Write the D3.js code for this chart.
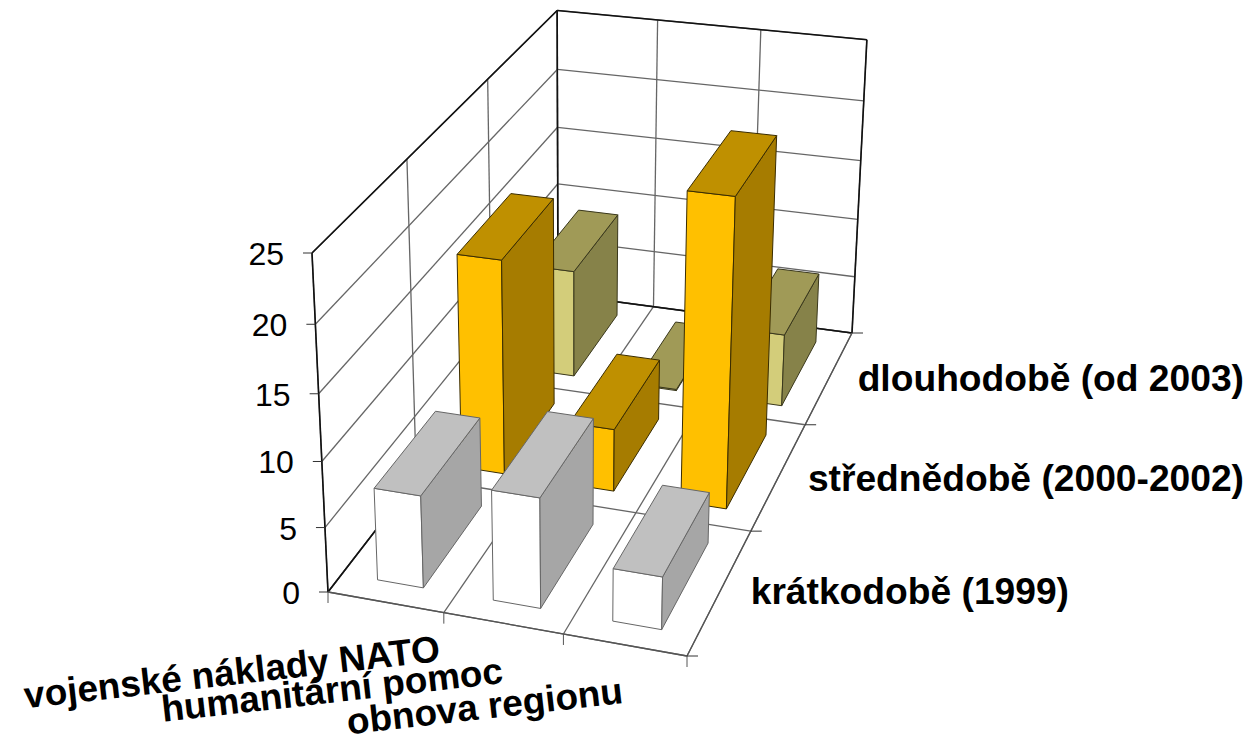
<!DOCTYPE html>
<html>
<head>
<meta charset="utf-8">
<script src="https://cdn.jsdelivr.net/npm/d3@7"></script>
<style>
body { margin: 0; background: #fff; }
text { font-family: "Liberation Sans", Arial, sans-serif; fill: #000; }
</style>
</head>
<body>
<script>
// data
var categories = ["vojenské náklady NATO", "humanitární pomoc", "obnova regionu"];
var periods = ["krátkodobě (1999)", "střednědobě (2000-2002)", "dlouhodobě (od 2003)"];
var shortTerm = [7.1, 8.4, 4];
var midTerm = [17.1, 5, 24];
var longTerm = [9, 0.1, 6];
var yTicks = [0, 5, 10, 15, 20, 25];

var seriesColors = [
    { front: "#ffffff", top: "#c0c0c0", side: "#a6a6a6", line: "#666666" },
    { front: "#ffc000", top: "#bf9000", side: "#a67c00", line: "#3a2c00" },
    { front: "#d3cd7a", top: "#a09a57", side: "#868249", line: "#3a381c" }
];

var w = 1249, h = 738;

var svg = d3.select("body").append("svg")
    .attr("width", w)
    .attr("height", h);

// corners of the 3D box on screen
var A = [328, 592], B = [687, 656], C = [852, 333], D = [558, 294]; // floor
var E = [312, 253], F = [558, 8], G = [866, 43]; // top of the walls

// camera: floor is a homography of the unit square, height column comes from E, F and G
var dx1 = B[0] - C[0], dx2 = D[0] - C[0], sx = A[0] - B[0] + C[0] - D[0];
var dy1 = B[1] - C[1], dy2 = D[1] - C[1], sy = A[1] - B[1] + C[1] - D[1];
var den = dx1 * dy2 - dx2 * dy1;
var g = (sx * dy2 - dx2 * sy) / den;
var k = (dx1 * sy - sx * dy1) / den;
var a1 = B[0] - A[0] + g * B[0], c1 = D[0] - A[0] + k * D[0];
var a2 = B[1] - A[1] + g * B[1], c2 = D[1] - A[1] + k * D[1];
var mF = (F[1] * (k + 1) - c2 - E[1]) / (E[1] - F[1]);
var mG = (G[1] * (g + k + 1) - a2 - c2 - E[1]) / (E[1] - G[1]);
var m = mF * 0.6 + mG * 0.4;
var b1 = E[0] * (m + 1) - A[0];
var b2 = E[1] * (m + 1) - A[1];

function project(u, t, v) {
    var q = g * u + m * t + k * v + 1;
    return [(a1 * u + b1 * t + c1 * v + A[0]) / q, (a2 * u + b2 * t + c2 * v + A[1]) / q];
}

var xScale = d3.scaleLinear().domain([0, categories.length]).range([0, 1]);
var zScale = d3.scaleLinear().domain([0, periods.length]).range([0, 1]);
var yScale = d3.scaleLinear().domain([0, 25]).range([0, 1]);

var line = d3.line();
function seg(p, q) { return line([p, q]); }

var xIdx = d3.range(categories.length + 1);
var zIdx = d3.range(periods.length + 1);

// gridlines
var gridLines = [];
yTicks.forEach(function(t) {
    var y = yScale(t);
    gridLines.push([project(0, y, 0), project(0, y, 1)]);
    gridLines.push([project(0, y, 1), project(1, y, 1)]);
});
xIdx.forEach(function(i) {
    var x = xScale(i);
    gridLines.push([project(x, 0, 0), project(x, 0, 1)]);
    gridLines.push([project(x, 0, 1), project(x, 1, 1)]);
});
zIdx.forEach(function(i) {
    var z = zScale(i);
    gridLines.push([project(0, 0, z), project(1, 0, z)]);
    gridLines.push([project(0, 0, z), project(0, 1, z)]);
});

svg.append("g").selectAll("path")
    .data(gridLines)
    .enter()
    .append("path")
    .attr("d", function(d) { return line(d); })
    .attr("stroke", "#666")
    .attr("stroke-width", 1.3)
    .attr("fill", "none");

// dark outline of the box
var outline = [
    [project(0, 1, 0), project(0, 1, 1)],
    [project(0, 0, 0), project(0, 1, 0)],
    [project(0, 0, 1), project(0, 1, 1)],
    [project(0, 0, 0), project(0, 0, 1)],
    [project(0, 0, 1), project(1, 0, 1)],
    [project(0, 1, 1), project(1, 1, 1)],
    [project(1, 0, 1), project(1, 1, 1)]
];
svg.append("g").selectAll("path")
    .data(outline)
    .enter()
    .append("path")
    .attr("d", function(d) { return line(d); })
    .attr("stroke", "#111")
    .attr("stroke-width", 1.6)
    .attr("fill", "none");

// floor front edges
svg.append("path").attr("d", seg(project(0, 0, 0), project(1, 0, 0))).attr("stroke", "#555").attr("stroke-width", 1.3);
svg.append("path").attr("d", seg(project(1, 0, 0), project(1, 0, 1))).attr("stroke", "#555").attr("stroke-width", 1.3);

// ticks
svg.append("g").selectAll("path")
    .data(xIdx)
    .enter()
    .append("path")
    .attr("d", function(d) {
        var p = project(xScale(d), 0, 0);
        return seg(p, [p[0], p[1] + 11]);
    })
    .attr("stroke", "#555");

svg.append("g").selectAll("path")
    .data(zIdx)
    .enter()
    .append("path")
    .attr("d", function(d) {
        var p = project(1, 0, zScale(d));
        return seg(p, [p[0] + 11, p[1]]);
    })
    .attr("stroke", "#333");

svg.append("g").selectAll("path")
    .data(yTicks)
    .enter()
    .append("path")
    .attr("d", function(d) {
        var p = project(0, yScale(d), 0);
        return seg([p[0] - 9, p[1]], p);
    })
    .attr("stroke", "#333");

// bars, back row first
var barW = 0.4, barD = 0.7, barShift = 0.012;
var rows = [longTerm, midTerm, shortTerm];
var rowIdx = [2, 1, 0];

rows.forEach(function(vals, r) {
    var zi = rowIdx[r];
    var col = seriesColors[zi];
    vals.forEach(function(val, i) {
        var x0 = xScale(i + barShift + (1 - barW) / 2), x1 = xScale(i + barShift + (1 + barW) / 2);
        var z0 = zScale(zi + (1 - barD) / 2), z1 = zScale(zi + (1 + barD) / 2);
        var y1 = yScale(val);
        var faces = [
            { c: col.front, pts: [project(x0, 0, z0), project(x1, 0, z0), project(x1, y1, z0), project(x0, y1, z0)] },
            { c: col.side, pts: [project(x1, 0, z0), project(x1, 0, z1), project(x1, y1, z1), project(x1, y1, z0)] },
            { c: col.top, pts: [project(x0, y1, z0), project(x1, y1, z0), project(x1, y1, z1), project(x0, y1, z1)] }
        ];
        svg.append("g").selectAll("path")
            .data(faces)
            .enter()
            .append("path")
            .attr("d", function(d) { return line(d.pts) + "Z"; })
            .attr("fill", function(d) { return d.c; })
            .attr("stroke", col.line)
            .attr("stroke-width", 1);
    });
});

// value axis labels
svg.append("g").selectAll("text")
    .data(yTicks)
    .enter()
    .append("text")
    .attr("x", function(d) { return project(0, yScale(d), 0)[0] - 28; })
    .attr("y", function(d) { return project(0, yScale(d), 0)[1] + 12; })
    .attr("text-anchor", "end")
    .attr("font-size", 32)
    .text(function(d) { return d; });

// depth labels
var periodRight = [1069, 1244, 1244];
var periodBase = [604, 491, 391];
svg.append("g").selectAll("text")
    .data(periods)
    .enter()
    .append("text")
    .attr("x", function(d, i) { return periodRight[i]; })
    .attr("y", function(d, i) { return periodBase[i]; })
    .attr("text-anchor", "end")
    .attr("font-size", 37.2)
    .attr("font-weight", "bold")
    .text(function(d) { return d; });

// category labels, slanted
var catRight = [441, 504, 624];
var catBase = [661, 683, 703];
svg.append("g").selectAll("text")
    .data(categories)
    .enter()
    .append("text")
    .attr("transform", function(d, i) { return "translate(" + catRight[i] + "," + catBase[i] + ") rotate(-6.5)"; })
    .attr("text-anchor", "end")
    .attr("font-size", 37)
    .attr("font-weight", "bold")
    .text(function(d) { return d; });
</script>
</body>
</html>
